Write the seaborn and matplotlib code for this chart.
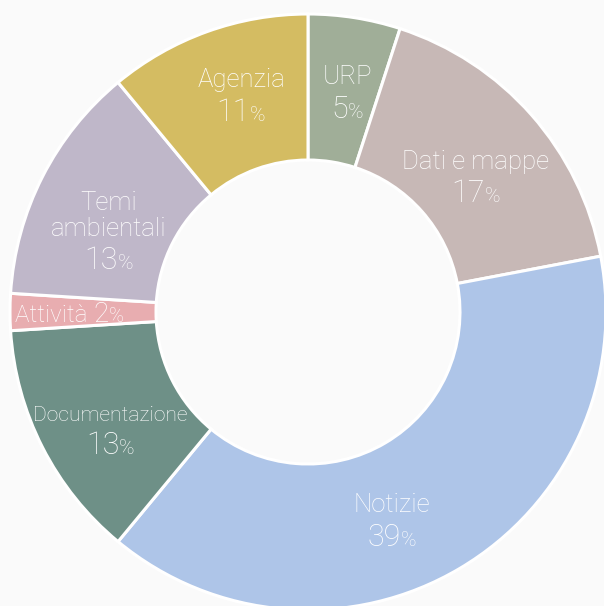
import numpy as np
import matplotlib
matplotlib.use("Agg")
import matplotlib.pyplot as plt
import seaborn as sns
from matplotlib.offsetbox import TextArea, HPacker, VPacker, AnnotationBbox

categories = ["URP", "Dati e mappe", "Notizie", "Documentazione", "Attività", "Temi\nambientali", "Agenzia"]
shares = [5, 17, 39, 13, 2, 13, 11]
colors = ["#a0ae98", "#c7b8b6", "#aec5e8", "#6e9087", "#e8adb0", "#bfb7c9", "#d4bc62"]

sns.set_theme(style="white")
plt.rcParams['font.family'] = ['Roboto', 'Lato', 'DejaVu Sans']

fig = plt.figure(figsize=(6.04, 6.06), dpi=100, facecolor="#fafafa")
ax = fig.add_axes([0, 0, 1, 1])
ax.set_facecolor("#fafafa")

ax.pie(shares, colors=colors, startangle=90, counterclock=False, radius=1,
       wedgeprops=dict(width=0.49, edgecolor="white", linewidth=2.2))

# small per-label nudges (data units)
nudge = {"URP": (0.015, -0.01), "Notizie": (-0.10, -0.06), "Dati e mappe": (0.0, -0.05),
         "Temi\nambientali": (0.0, -0.075), "Documentazione": (0.005, -0.065),
         "Agenzia": (0.03, 0.015)}

cum = np.cumsum([0] + shares)
for i, (name, val) in enumerate(zip(categories, shares)):
    mid = (cum[i] + cum[i + 1]) / 2
    ang = np.deg2rad(90 - mid / 100 * 360)
    r = 0.75
    x, y = r * np.cos(ang), r * np.sin(ang)
    dx, dy = nudge.get(name, (0, 0))
    x, y = x + dx, y + dy
    lsize = 15.2 if name == "Documentazione" else 18.5
    tp = dict(color="white", weight="light")
    num = TextArea(str(val), textprops=dict(tp, size=22))
    pct = TextArea("%", textprops=dict(tp, size=15))
    pbox = HPacker(children=[num, pct], align="baseline", pad=0, sep=0)
    if name == "Attività":
        lab = TextArea(name + " ", textprops=dict(tp, size=17.5))
        pbox = HPacker(children=[TextArea(str(val), textprops=dict(tp, size=20)),
                                 TextArea("%", textprops=dict(tp, size=14.5))],
                       align="baseline", pad=0, sep=0)
        box = HPacker(children=[lab, pbox], align="baseline", pad=0, sep=0)
        x, y = -0.80, -0.01
    else:
        lab = TextArea(name, textprops=dict(tp, size=lsize, ha="center",
                                            multialignment="center", linespacing=1.1))
        box = VPacker(children=[lab, pbox], align="center", pad=0, sep=4)
    ab = AnnotationBbox(box, (x, y), frameon=False, box_alignment=(0.5, 0.5))
    ax.add_artist(ab)

ax.set_xlim(-308 / 298, (604 - 308) / 298)
ax.set_ylim(-(606 - 312) / 298, 312 / 298)
ax.set_aspect("equal")
ax.axis("off")

fig.savefig("out.png", dpi=100, facecolor=fig.get_facecolor())
